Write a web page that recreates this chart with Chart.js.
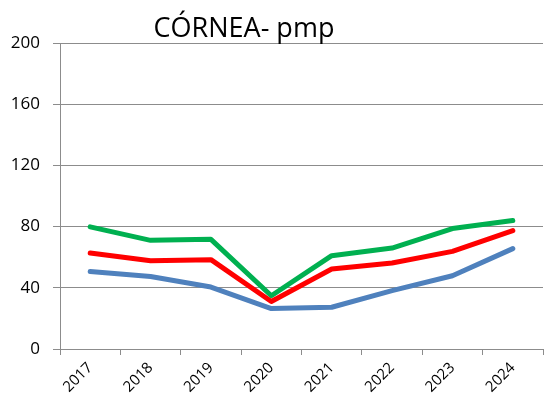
<!DOCTYPE html>
<html>
<head>
<meta charset="utf-8">
<script src="https://cdn.jsdelivr.net/npm/chart.js@4/dist/chart.umd.min.js"></script>
<style>
  html, body { margin: 0; padding: 0; background: #fff; }
  #wrap { width: 553px; height: 405px; position: relative; }
</style>
</head>
<body>
<div id="wrap"><canvas id="chart"></canvas></div>
<script>
const TITLE = 'CÓRNEA- pmp';
const YEARS = ['2017', '2018', '2019', '2020', '2021', '2022', '2023', '2024'];
const GREEN_VALUES = [79.8, 71.0, 71.7, 34.8, 61.0, 66.0, 78.7, 84.0];
const RED_VALUES = [62.7, 57.7, 58.4, 31.0, 52.3, 56.2, 63.8, 77.4];
const BLUE_VALUES = [50.7, 47.4, 40.5, 26.4, 27.3, 38.2, 47.9, 65.6];
const Y_MIN = 0;
const Y_MAX = 200;
const Y_STEP = 40;

const FONT = '"Open Sans", "Liberation Sans", sans-serif';
const GRID = '#8c8c8c';

// titulo dibujado a mano, algo desplazado a la izquierda del centro
const titlePlugin = {
  id: 'titlePlugin',
  afterDraw(chart) {
    const ctx = chart.ctx;
    ctx.save();
    ctx.font = '27px ' + FONT;
    ctx.fillStyle = '#000';
    ctx.textAlign = 'center';
    ctx.textBaseline = 'alphabetic';
    ctx.fillText(TITLE, 244, 37);
    ctx.restore();
  },
};

const line = (data, color) => ({
  data,
  borderColor: color,
  backgroundColor: color,
  borderWidth: 5,
  pointRadius: 0,
  tension: 0,
  borderCapStyle: 'round',
  borderJoinStyle: 'round',
});

new Chart(document.getElementById('chart'), {
  type: 'line',
  data: {
    labels: YEARS,
    datasets: [
      line(BLUE_VALUES, '#4f81bd'),
      line(RED_VALUES, '#ff0000'),
      line(GREEN_VALUES, '#00b050'),
    ],
  },
  options: {
    responsive: true,
    maintainAspectRatio: false,
    animation: false,
    layout: { padding: { left: 0, right: 10, top: 43, bottom: 0 } },
    plugins: {
      legend: { display: false },
      title: { display: false },
      tooltip: { enabled: false },
    },
    scales: {
      x: {
        offset: true,
        grid: {
          offset: true,
          drawOnChartArea: false,
          color: GRID,
          tickLength: 6,
        },
        border: { color: GRID, width: 1 },
        ticks: {
          color: '#000',
          font: { family: FONT, size: 15 },
          minRotation: 45,
          maxRotation: 45,
          padding: 4,
        },
        afterFit: scale => { scale.height = 56; },
      },
      y: {
        min: Y_MIN,
        max: Y_MAX,
        grid: { color: GRID, tickLength: 7 },
        border: { color: GRID, width: 1 },
        ticks: {
          stepSize: Y_STEP,
          color: '#000',
          font: { family: FONT, size: 17 },
          padding: 13,
        },
        afterFit: scale => { scale.width = 60; },
      },
    },
  },
  plugins: [titlePlugin],
});
</script>
</body>
</html>
